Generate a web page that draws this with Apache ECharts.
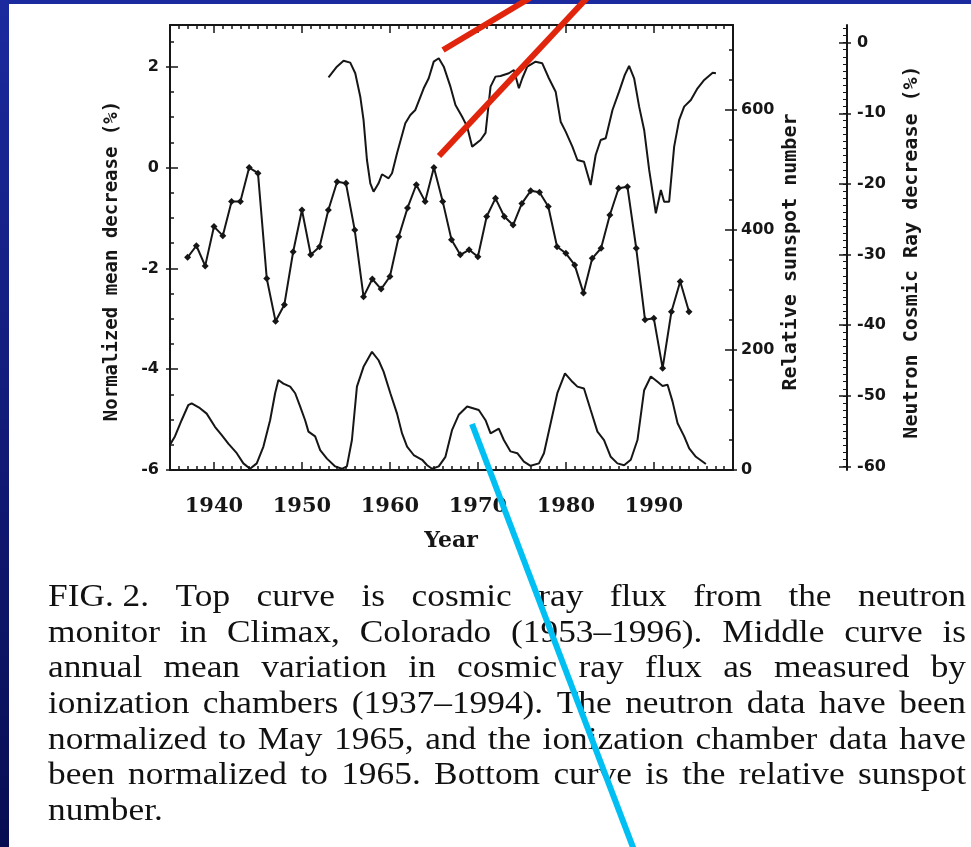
<!DOCTYPE html>
<html><head><meta charset="utf-8">
<script src="https://cdn.jsdelivr.net/npm/echarts@6/dist/echarts.min.js"></script>
<style>
html,body{margin:0;padding:0;width:971px;height:847px;overflow:hidden;background:linear-gradient(#1b2a9e,#080d52);}
#paper{position:absolute;left:9px;top:4px;right:0;bottom:0;background:#fff;}
#chart{position:absolute;left:0;top:0;width:971px;height:847px;}
</style></head><body><div id="paper"></div><div id="chart"></div>
<script>
// ---- data ----
const neutronYears = [1953.02,1953.97,1954.73,1955.49,1956.06,1956.63,1957.00,1957.39,1957.77,1958.14,1958.71,1959.10,1959.85,1960.24,1960.81,1961.75,1962.32,1962.89,1963.84,1964.41,1964.98,1965.55,1966.12,1966.88,1967.45,1968.21,1968.78,1969.35,1970.30,1970.87,1971.44,1972.00,1972.57,1973.52,1974.09,1974.66,1975.05,1975.61,1976.56,1977.32,1978.07,1978.84,1979.41,1979.98,1980.74,1981.31,1982.06,1982.82,1983.39,1983.96,1984.53,1985.30,1986.05,1986.70,1987.19,1987.76,1988.33,1988.90,1989.47,1990.23,1990.80,1991.17,1991.74,1992.31,1992.88,1993.45,1994.21,1994.97,1995.73,1996.69,1997.06];
const neutronValues = [-4.90,-3.40,-2.55,-2.83,-4.33,-7.65,-10.94,-16.61,-19.91,-21.10,-19.91,-18.63,-19.20,-18.49,-15.66,-11.41,-10.24,-9.53,-6.46,-5.04,-2.69,-2.21,-3.40,-6.23,-8.82,-10.48,-11.89,-14.72,-13.78,-12.78,-6.23,-4.81,-4.71,-4.33,-3.87,-6.46,-5.04,-3.40,-2.69,-2.92,-5.04,-6.94,-11.19,-12.60,-14.72,-16.61,-16.85,-20.15,-15.90,-13.78,-13.54,-9.53,-6.94,-4.57,-3.30,-5.04,-9.06,-12.36,-18.02,-24.15,-20.86,-22.51,-22.51,-14.72,-10.94,-9.06,-8.11,-6.46,-5.28,-4.25,-4.33];

const ionYears = [1937,1938,1939,1940,1941,1942,1943,1944,1945,1946,1947,1948,1949,1950,1951,1952,1953,1954,1955,1956,1957,1958,1959,1960,1961,1962,1963,1964,1965,1966,1967,1968,1969,1970,1971,1972,1973,1974,1975,1976,1977,1978,1979,1980,1981,1982,1983,1984,1985,1986,1987,1988,1989,1990,1991,1992,1993,1994];
const ionValues = [-1.78,-1.55,-1.95,-1.17,-1.35,-0.67,-0.67,0.0,-0.11,-2.2,-3.05,-2.72,-1.67,-0.84,-1.73,-1.57,-0.84,-0.28,-0.31,-1.24,-2.56,-2.21,-2.41,-2.16,-1.37,-0.80,-0.34,-0.67,0.0,-0.67,-1.43,-1.73,-1.63,-1.77,-0.97,-0.61,-0.97,-1.14,-0.71,-0.46,-0.49,-0.77,-1.57,-1.70,-1.93,-2.49,-1.80,-1.60,-0.94,-0.41,-0.38,-1.60,-3.02,-2.99,-3.98,-2.86,-2.26,-2.86];

const sunspotYears = [1935.07,1935.56,1936.32,1937.07,1937.46,1938.41,1939.17,1940.11,1940.88,1941.63,1942.59,1943.34,1944.10,1944.86,1945.62,1946.38,1946.95,1947.32,1947.89,1948.66,1949.23,1949.79,1950.36,1950.74,1951.50,1952.07,1952.84,1953.78,1954.54,1955.11,1955.68,1956.25,1957.00,1957.96,1958.71,1959.28,1960.05,1960.81,1961.38,1961.95,1962.70,1963.66,1964.23,1964.79,1965.55,1966.31,1967.07,1967.82,1968.78,1970.10,1970.87,1971.44,1972.38,1972.95,1973.71,1974.48,1975.23,1975.99,1976.94,1977.51,1978.27,1979.03,1979.90,1980.74,1981.31,1982.06,1982.82,1983.59,1984.34,1985.10,1985.86,1986.62,1987.38,1988.14,1988.90,1989.66,1990.42,1990.99,1991.56,1992.13,1992.70,1993.45,1994.02,1994.78,1995.92];
const sunspotValues = [44,56,83,108,111,103,94,72,58,44,28,11,2,11,39,83,128,150,144,139,128,106,83,64,56,33,19,6,2,6,50,139,172,197,183,164,128,94,61,39,25,17,8,2,6,22,67,92,106,100,83,61,69,50,31,28,14,7,11,28,78,128,161,147,139,136,100,64,50,22,11,8,17,50,133,156,147,140,142,114,78,56,36,22,10];

const yearTicks = [1940,1950,1960,1970,1980,1990];
const leftTicks = [-6,-4,-2,0,2];
const sunspotTicks = [0,200,400,600];
const neutronTicks = [-60,-50,-40,-30,-20,-10,0];
const neutronMinorTicks = [];
for (let v = -60; v <= 2; v++) neutronMinorTicks.push(v);

const xName = 'Year';
const leftName = 'Normalized mean decrease (%)';
const sunspotName = 'Relative sunspot number';
const neutronName = 'Neutron Cosmic Ray decrease (%)';
const captionLines = [
  'FIG.\u00a02.  Top curve is cosmic ray flux from the neutron',
  'monitor in Climax, Colorado (1953\u20131996).  Middle curve is',
  'annual mean variation in cosmic ray flux as measured by',
  'ionization chambers (1937\u20131994).  The neutron data have been',
  'normalized to May 1965, and the ionization chamber data have',
  'been normalized to 1965.  Bottom curve is the relative sunspot',
  'number.'
];

// ---- chart ----
const INK = '#161616';
const chart = echarts.init(document.getElementById('chart'), null, {renderer: 'canvas'});
const pair = (xs, ys) => xs.map((x, i) => [x, ys[i]]);

const xBase = {type: 'value', min: 1935, max: 1999, gridIndex: 0, splitLine: {show: false}};
const tickLine = {color: INK, width: 1.5};
const yLabel = {color: INK, fontFamily: 'DejaVu Sans', fontWeight: 'bold', fontSize: 16};
// an extra copy of an axis that only draws the outer half of its major ticks
const outerTicks = (base, values) => Object.assign({}, base, {
  splitLine: {show: false}, axisLine: {show: false, onZero: false}, minorTick: {show: false},
  axisTick: {show: true, inside: false, length: 4, customValues: values, lineStyle: tickLine},
  axisLabel: {show: false}});

// caption layout (justified)
const CAP_SIZE = 31, CAP_SX = 1.14, CAP_L = 48, CAP_R = 966, CAP_Y0 = 598, CAP_DY = 35.6;
const mctx = document.createElement('canvas').getContext('2d');
mctx.font = CAP_SIZE + 'px "Liberation Serif"';
const graphics = [];
captionLines.forEach((line, li) => {
  const words = line.split(' ').filter(Boolean);
  const widths = words.map(w => mctx.measureText(w).width * CAP_SX);
  const total = widths.reduce((a, b) => a + b, 0);
  const last = li === captionLines.length - 1;
  const gap = last ? mctx.measureText(' ').width * CAP_SX : (CAP_R - CAP_L - total) / (words.length - 1);
  let x = CAP_L;
  words.forEach((w, i) => {
    graphics.push({type: 'text', x: x, y: CAP_Y0 + li * CAP_DY, scaleX: CAP_SX, z: 10,
      style: {text: w, fontSize: CAP_SIZE, fontFamily: 'Liberation Serif', fill: '#111', align: 'left', verticalAlign: 'middle'}});
    x += widths[i] + gap;
  });
});
const nameStyle = (t, size) => ({text: t, fontSize: size, fontFamily: 'DejaVu Sans Mono', fontWeight: 'bold', fill: INK, align: 'center', verticalAlign: 'middle'});
graphics.push({type: 'text', x: 112, y: 261, rotation: Math.PI / 2, style: nameStyle(leftName, 19)});
graphics.push({type: 'text', x: 791, y: 252, rotation: Math.PI / 2, style: nameStyle(sunspotName, 20)});
graphics.push({type: 'text', x: 912, y: 252, rotation: Math.PI / 2, style: nameStyle(neutronName, 20)});
graphics.push({type: 'text', x: 451, y: 541, style: {text: xName, fontSize: 22, fontFamily: 'DejaVu Serif', fontWeight: 'bold', fill: INK, align: 'center', verticalAlign: 'middle'}});
// annotation strokes drawn over the figure
graphics.push({type: 'line', z: 20, shape: {x1: 443, y1: 50, x2: 530, y2: -2}, style: {stroke: '#e1250c', lineWidth: 6}});
graphics.push({type: 'line', z: 20, shape: {x1: 439, y1: 156, x2: 587, y2: -2}, style: {stroke: '#e1250c', lineWidth: 6}});
graphics.push({type: 'line', z: 20, shape: {x1: 472, y1: 424, x2: 634, y2: 850}, style: {stroke: '#00bff2', lineWidth: 6}});

const leftAxis = {type: 'value', position: 'left', min: -6, max: 2.83, interval: 2};
const sunAxis = {type: 'value', position: 'right', min: 0, max: 742, interval: 200};
const neuAxis = {type: 'value', position: 'right', offset: 114, min: -60.5, max: 2.5};

chart.setOption({
  animation: false,
  backgroundColor: 'transparent',
  grid: {left: 170, right: 238, top: 25, bottom: 377, containLabel: false, outerBoundsMode: 'none'},
  xAxis: [
    Object.assign({}, xBase, {position: 'bottom', interval: 1,
      axisLine: {show: true, onZero: false, lineStyle: {color: INK, width: 2}},
      axisTick: {show: true, inside: true, length: 4, lineStyle: tickLine},
      axisLabel: {show: true, margin: 26, color: INK, fontFamily: 'DejaVu Serif', fontWeight: 'bold', fontSize: 21,
        formatter: v => (yearTicks.indexOf(Math.round(v)) >= 0 && Math.abs(v - Math.round(v)) < 1e-6) ? String(Math.round(v)) : ''}}),
    Object.assign({}, xBase, {position: 'bottom',
      axisLine: {show: false, onZero: false},
      axisTick: {show: true, inside: true, length: 8, customValues: yearTicks, lineStyle: tickLine},
      axisLabel: {show: false}}),
    Object.assign({}, xBase, {position: 'top', interval: 1,
      axisLine: {show: true, onZero: false, lineStyle: {color: INK, width: 2}},
      axisTick: {show: true, inside: true, length: 4, lineStyle: tickLine},
      axisLabel: {show: false}}),
    Object.assign({}, xBase, {position: 'top',
      axisLine: {show: false, onZero: false},
      axisTick: {show: true, inside: true, length: 8, customValues: yearTicks, lineStyle: tickLine},
      axisLabel: {show: false}})
  ],
  yAxis: [
    Object.assign({}, leftAxis, {splitLine: {show: false},
      axisLine: {show: true, onZero: false, lineStyle: {color: INK, width: 2}},
      axisTick: {show: true, inside: true, length: 8, lineStyle: tickLine},
      minorTick: {show: true, splitNumber: 4, length: 4, lineStyle: tickLine},
      axisLabel: Object.assign({margin: 11, showMaxLabel: false}, yLabel)}),
    Object.assign({}, sunAxis, {splitLine: {show: false},
      axisLine: {show: true, onZero: false, lineStyle: {color: INK, width: 2}},
      axisTick: {show: true, inside: true, length: 8, lineStyle: tickLine},
      minorTick: {show: true, splitNumber: 4, length: 4, lineStyle: tickLine},
      axisLabel: Object.assign({margin: 8, showMaxLabel: false}, yLabel)}),
    Object.assign({}, neuAxis, {splitLine: {show: false},
      axisLine: {show: true, onZero: false, lineStyle: {color: INK, width: 2}},
      axisTick: {show: true, inside: true, length: 4, customValues: neutronMinorTicks, lineStyle: {color: INK, width: 1}},
      axisLabel: {show: false}}),
    Object.assign({}, neuAxis, {splitLine: {show: false},
      axisLine: {show: false, onZero: false},
      axisTick: {show: true, inside: true, length: 8, customValues: neutronTicks, lineStyle: tickLine},
      axisLabel: Object.assign({margin: 10, customValues: neutronTicks}, yLabel)}),
    outerTicks(leftAxis, leftTicks),
    outerTicks(sunAxis, sunspotTicks),
    outerTicks(neuAxis, neutronTicks)
  ],
  series: [
    {name: 'Neutron monitor', type: 'line', xAxisIndex: 0, yAxisIndex: 2, data: pair(neutronYears, neutronValues),
      showSymbol: false, symbol: 'none', lineStyle: {color: INK, width: 2}, z: 3},
    {name: 'Ionization chamber', type: 'line', xAxisIndex: 0, yAxisIndex: 0, data: pair(ionYears, ionValues),
      symbol: 'diamond', symbolSize: 7, itemStyle: {color: INK}, lineStyle: {color: INK, width: 2}, z: 3},
    {name: 'Sunspot number', type: 'line', xAxisIndex: 0, yAxisIndex: 1, data: pair(sunspotYears, sunspotValues),
      showSymbol: false, symbol: 'none', lineStyle: {color: INK, width: 2}, z: 3}
  ],
  graphic: graphics
});
</script></body></html>
